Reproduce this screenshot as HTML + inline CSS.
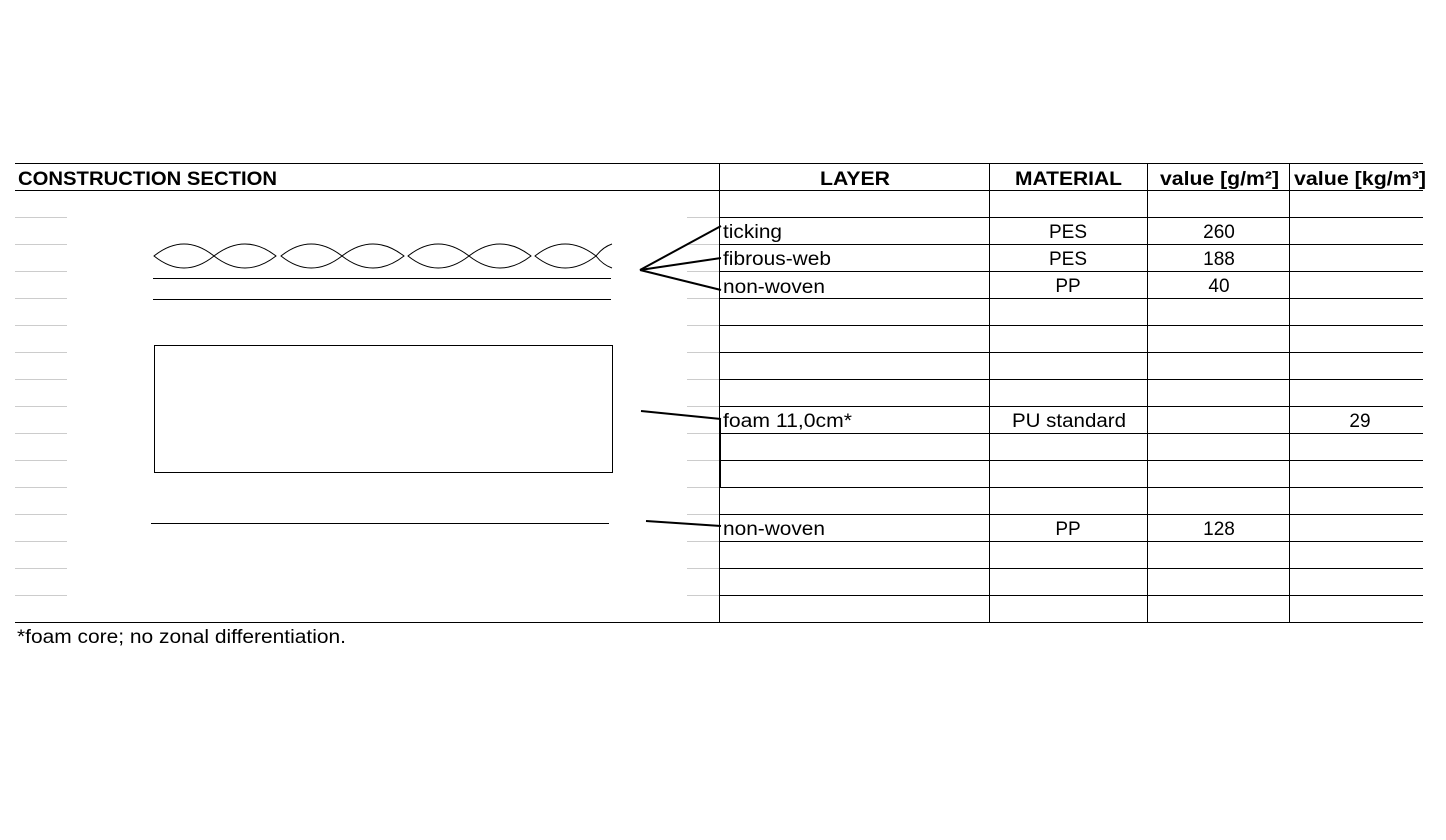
<!DOCTYPE html>
<html><head><style>
body{margin:0;background:#fff;}
svg{display:block;}
text{font-family:"Liberation Sans",Arial,sans-serif;font-size:19px;fill:#000;}
.b{font-weight:bold;}
</style></head><body>
<svg width="1446" height="840" xmlns="http://www.w3.org/2000/svg">
<g stroke="#ccc" stroke-width="1">
<line x1="15" y1="217.5" x2="67" y2="217.5"/><line x1="15" y1="244.5" x2="67" y2="244.5"/><line x1="15" y1="271.5" x2="67" y2="271.5"/><line x1="15" y1="298.5" x2="67" y2="298.5"/><line x1="15" y1="325.5" x2="67" y2="325.5"/><line x1="15" y1="352.5" x2="67" y2="352.5"/><line x1="15" y1="379.5" x2="67" y2="379.5"/><line x1="15" y1="406.5" x2="67" y2="406.5"/><line x1="15" y1="433.5" x2="67" y2="433.5"/><line x1="15" y1="460.5" x2="67" y2="460.5"/><line x1="15" y1="487.5" x2="67" y2="487.5"/><line x1="15" y1="514.5" x2="67" y2="514.5"/><line x1="15" y1="541.5" x2="67" y2="541.5"/><line x1="15" y1="568.5" x2="67" y2="568.5"/><line x1="15" y1="595.5" x2="67" y2="595.5"/>
<line x1="687" y1="217.5" x2="719" y2="217.5"/><line x1="687" y1="244.5" x2="719" y2="244.5"/><line x1="687" y1="271.5" x2="719" y2="271.5"/><line x1="687" y1="298.5" x2="719" y2="298.5"/><line x1="687" y1="325.5" x2="719" y2="325.5"/><line x1="687" y1="352.5" x2="719" y2="352.5"/><line x1="687" y1="379.5" x2="719" y2="379.5"/><line x1="687" y1="406.5" x2="719" y2="406.5"/><line x1="687" y1="433.5" x2="719" y2="433.5"/><line x1="687" y1="460.5" x2="719" y2="460.5"/><line x1="687" y1="487.5" x2="719" y2="487.5"/><line x1="687" y1="514.5" x2="719" y2="514.5"/><line x1="687" y1="541.5" x2="719" y2="541.5"/><line x1="687" y1="568.5" x2="719" y2="568.5"/><line x1="687" y1="595.5" x2="719" y2="595.5"/>
</g>
<g stroke="#000" stroke-width="1">
<line x1="15" y1="163.5" x2="1423" y2="163.5"/>
<line x1="15" y1="190.5" x2="1423" y2="190.5"/>
<line x1="15" y1="622.5" x2="1423" y2="622.5"/>
<line x1="719" y1="217.5" x2="1423" y2="217.5"/><line x1="719" y1="244.5" x2="1423" y2="244.5"/><line x1="719" y1="271.5" x2="1423" y2="271.5"/><line x1="719" y1="298.5" x2="1423" y2="298.5"/><line x1="719" y1="325.5" x2="1423" y2="325.5"/><line x1="719" y1="352.5" x2="1423" y2="352.5"/><line x1="719" y1="379.5" x2="1423" y2="379.5"/><line x1="719" y1="406.5" x2="1423" y2="406.5"/><line x1="719" y1="433.5" x2="1423" y2="433.5"/><line x1="719" y1="460.5" x2="1423" y2="460.5"/><line x1="719" y1="487.5" x2="1423" y2="487.5"/><line x1="719" y1="514.5" x2="1423" y2="514.5"/><line x1="719" y1="541.5" x2="1423" y2="541.5"/><line x1="719" y1="568.5" x2="1423" y2="568.5"/><line x1="719" y1="595.5" x2="1423" y2="595.5"/>
<line x1="719.5" y1="163" x2="719.5" y2="622"/>
<line x1="989.5" y1="163" x2="989.5" y2="622"/>
<line x1="1147.5" y1="163" x2="1147.5" y2="622"/>
<line x1="1289.5" y1="163" x2="1289.5" y2="622"/>
<line x1="153" y1="278.5" x2="611" y2="278.5"/>
<line x1="153" y1="299.5" x2="611" y2="299.5"/>
<rect x="154.5" y="345.5" width="458" height="127" fill="none"/>
<line x1="151" y1="523.5" x2="609" y2="523.5"/>
</g>
<g stroke="#000" stroke-width="1" fill="none">
<path d="M154 256 Q184 232 214 256 Q184 280 154 256 Z"/>
<path d="M214 256 Q245 232 276 256 Q245 280 214 256 Z"/>
<path d="M281 256 Q311 232 342 256 Q311 280 281 256 Z"/>
<path d="M342 256 Q373 232 404 256 Q373 280 342 256 Z"/>
<path d="M408 256 Q438 232 469 256 Q438 280 408 256 Z"/>
<path d="M469 256 Q500 232 531 256 Q500 280 469 256 Z"/>
<path d="M535 256 Q565 232 596 256 Q565 280 535 256 Z"/>
<path d="M596 256 Q603 247 612 244 M596 256 Q603 265 612 268"/>
</g>
<g stroke="#000" stroke-width="2">
<line x1="640" y1="270" x2="721" y2="226"/>
<line x1="640" y1="270" x2="721" y2="258"/>
<line x1="640" y1="270" x2="721" y2="290"/>
<line x1="641" y1="411" x2="721" y2="419"/>
<line x1="646" y1="521" x2="721" y2="526"/>
<line x1="720" y1="418" x2="720" y2="487"/>
</g>
<text class="b" x="18" y="185" textLength="259" lengthAdjust="spacingAndGlyphs">CONSTRUCTION SECTION</text>
<text class="b" x="820" y="185" textLength="70" lengthAdjust="spacingAndGlyphs">LAYER</text>
<text class="b" x="1015" y="185" textLength="107" lengthAdjust="spacingAndGlyphs">MATERIAL</text>
<text class="b" x="1160" y="185" textLength="119" lengthAdjust="spacingAndGlyphs">value [g/m²]</text>
<text class="b" x="1294" y="185" textLength="132" lengthAdjust="spacingAndGlyphs">value [kg/m³]</text>
<text x="723" y="238" textLength="59" lengthAdjust="spacingAndGlyphs">ticking</text>
<text x="723" y="265" textLength="108" lengthAdjust="spacingAndGlyphs">fibrous-web</text>
<text x="723" y="293" textLength="102" lengthAdjust="spacingAndGlyphs">non-woven</text>
<text x="723" y="427" textLength="129" lengthAdjust="spacingAndGlyphs">foam 11,0cm*</text>
<text x="723" y="535" textLength="102" lengthAdjust="spacingAndGlyphs">non-woven</text>
<text x="1068" y="238" text-anchor="middle">PES</text>
<text x="1068" y="265" text-anchor="middle">PES</text>
<text x="1068" y="292" text-anchor="middle">PP</text>
<text x="1012" y="427" textLength="114" lengthAdjust="spacingAndGlyphs">PU standard</text>
<text x="1068" y="535" text-anchor="middle">PP</text>
<text x="1219" y="238" text-anchor="middle">260</text>
<text x="1219" y="265" text-anchor="middle">188</text>
<text x="1219" y="292" text-anchor="middle">40</text>
<text x="1219" y="535" text-anchor="middle">128</text>
<text x="1360" y="427" text-anchor="middle">29</text>
<text x="17" y="643" textLength="329" lengthAdjust="spacingAndGlyphs">*foam core; no zonal differentiation.</text>
</svg>
</body></html>
